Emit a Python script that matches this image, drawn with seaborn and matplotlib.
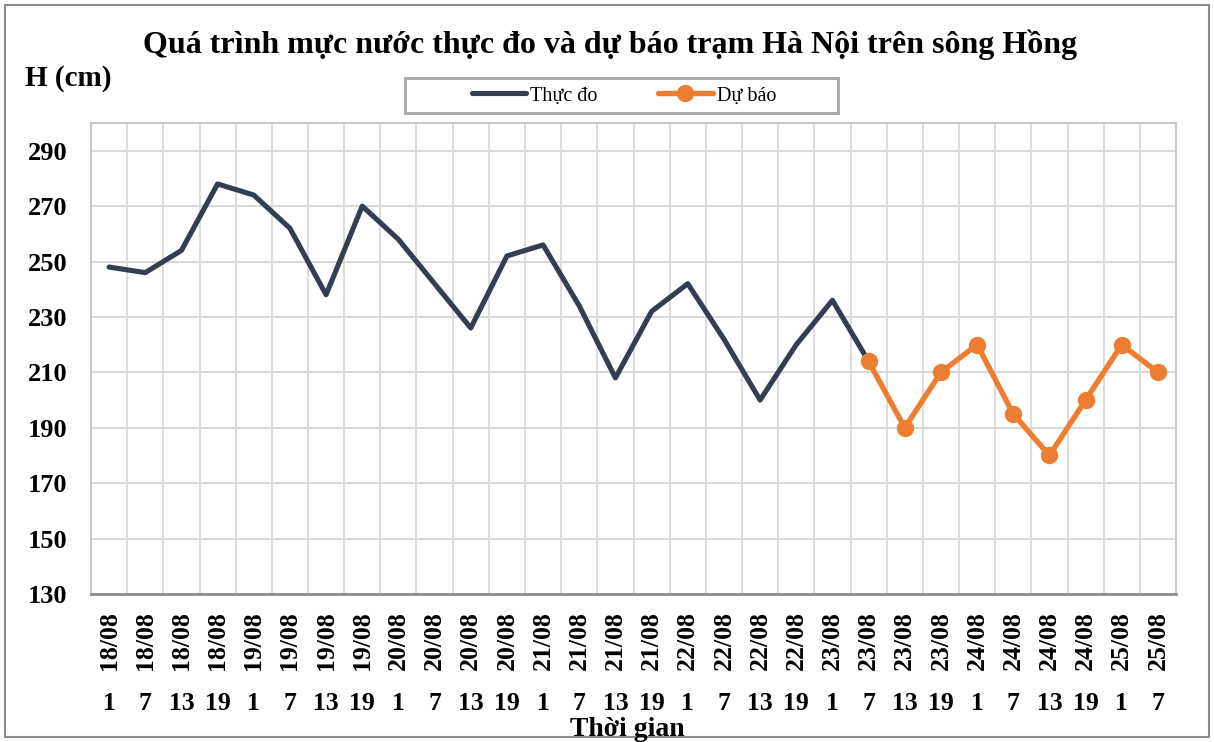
import matplotlib
matplotlib.use("Agg")
import matplotlib.pyplot as plt
import seaborn as sns
import pandas as pd
from matplotlib.transforms import blended_transform_factory
from matplotlib.patches import Rectangle

# ---------------- data ----------------
dates = (["18/08"] * 4 + ["19/08"] * 4 + ["20/08"] * 4 + ["21/08"] * 4 +
         ["22/08"] * 4 + ["23/08"] * 4 + ["24/08"] * 4 + ["25/08"] * 2)
hours = ["1", "7", "13", "19"] * 7 + ["1", "7"]
observed = [248, 246, 254, 278, 274, 262, 238, 270, 258, 242, 226, 252, 256,
            234, 208, 232, 242, 222, 200, 220, 236, 214]
forecast = [214, 190, 210, 220, 195, 180, 200, 220, 210]
forecast_start = 21  # category index where the forecast begins
yticks = [130, 150, 170, 190, 210, 230, 250, 270, 290]

title = "Quá trình mực nước thực đo và dự báo trạm Hà Nội trên sông Hồng"
ylabel = "H (cm)"
xlabel = "Thời gian"
name_obs = "Thực đo"
name_fc = "Dự báo"

# ---------------- style ----------------
sns.set_theme(style="white")
plt.rcParams["font.family"] = ["Liberation Serif", "DejaVu Serif"]
plt.rcParams["text.color"] = "black"
plt.rcParams["ytick.labelcolor"] = "black"
plt.rcParams["xtick.labelcolor"] = "black"

C_OBS = "#333F50"
C_FC = "#ED7D31"
GRID = "#D9D9D9"
AXIS = "#8C8C8C"

W, H = 1214, 742
fig = plt.figure(figsize=(W / 100, H / 100), dpi=100)
L, R, T, B = 91, 1176, 123, 594
ax = fig.add_axes([L / W, 1 - B / H, (R - L) / W, (B - T) / H])

df_obs = pd.DataFrame({"pos": range(len(observed)), "H": observed})
df_fc = pd.DataFrame({"pos": range(forecast_start, forecast_start + len(forecast)),
                      "H": forecast})

sns.lineplot(data=df_obs, x="pos", y="H", ax=ax, color=C_OBS, linewidth=3.7,
             label=name_obs, zorder=3)
sns.lineplot(data=df_fc, x="pos", y="H", ax=ax, color=C_FC, linewidth=3.9,
             marker="o", markersize=12.5, markeredgewidth=0, label=name_fc, zorder=4)

n = len(dates)
ax.set_xlim(-0.5, n - 0.5)
ax.set_ylim(130, 300)
ax.set_yticks(yticks)
ax.set_yticklabels([str(v) for v in yticks], fontsize=19, fontweight="bold",
                   color="black")
ax.tick_params(axis="y", length=0, pad=17)

# x: category boundaries as minor ticks (gridlines + long dividers below)
ax.set_xticks(range(n))
ax.set_xticklabels([])
ax.tick_params(axis="x", which="major", length=0)
ax.set_xticks([i - 0.5 for i in range(n + 1)], minor=True)
ax.tick_params(axis="x", which="minor", direction="out", length=89, width=1.3,
               color=AXIS)
ax.grid(True, axis="x", which="minor", color=GRID, linewidth=1.3)
ax.grid(True, axis="y", which="major", color=GRID, linewidth=1.5)
ax.set_axisbelow(True)
ax.set_xlabel("")
ax.set_ylabel("")

for s in ["top", "right", "left"]:
    ax.spines[s].set_color("#C8C8C8")
    ax.spines[s].set_linewidth(1.5)
ax.spines["bottom"].set_color(AXIS)
ax.spines["bottom"].set_linewidth(2)

tr = blended_transform_factory(ax.transData, ax.transAxes)
span = B - T
for i, (d, h) in enumerate(zip(dates, hours)):
    ax.text(i, -(641 - B) / span, d, transform=tr, rotation=90, ha="center",
            va="center", fontsize=18.5, fontweight="bold", color="black")
    ax.text(i, -(704 - B) / span, h, transform=tr, ha="center", va="center",
            fontsize=18.5, fontweight="bold", color="black")

# legend
leg = ax.legend(loc="center", bbox_to_anchor=(624 / W, 1 - 96 / H),
                bbox_transform=fig.transFigure, ncol=2, frameon=False,
                fontsize=14.5, handlelength=2.7, columnspacing=3.0,
                handletextpad=0.2, labelcolor="black")
fig.add_artist(Rectangle((405 / W, 1 - 113 / H), 433 / W, 35 / H,
                         transform=fig.transFigure, fill=False,
                         edgecolor="#A6A6A6", linewidth=2))

# texts
fig.text(610 / W, 1 - 45 / H, title, ha="center", va="center", fontsize=23,
         fontweight="bold", color="black")
fig.text(68 / W, 1 - 79 / H, ylabel, ha="center", va="center", fontsize=21,
         fontweight="bold", color="black")
fig.text(627 / W, 1 - 729 / H, xlabel, ha="center", va="center", fontsize=20,
         fontweight="bold", color="black")

# outer chart border
fig.add_artist(Rectangle((5 / W, 5 / H), 1204 / W, 732 / H,
                         transform=fig.transFigure, fill=False,
                         edgecolor="#8C8C8C", linewidth=1.5))

fig.savefig("out.png", dpi=100)
